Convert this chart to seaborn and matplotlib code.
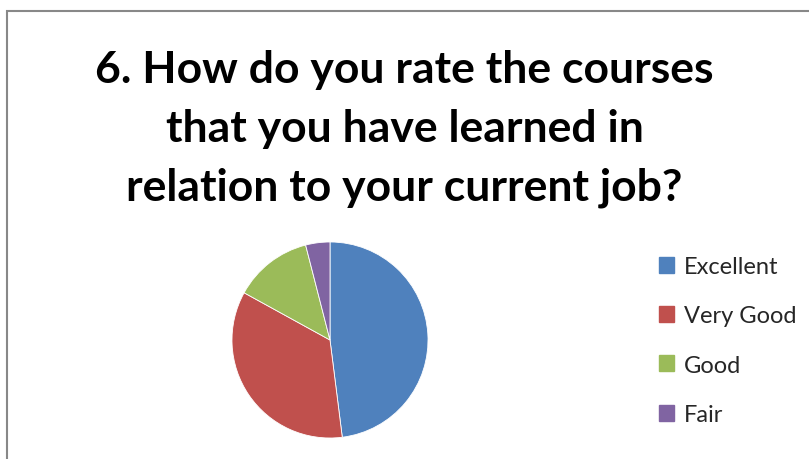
import matplotlib
matplotlib.use("Agg")
import matplotlib.pyplot as plt
import matplotlib.patches as mpatches
import seaborn as sns

sns.set_theme(style="white")
plt.rcParams['font.family'] = ['Lato', 'DejaVu Sans']

# Data
categories = ["Excellent", "Very Good", "Good", "Fair"]
values = [48, 35, 13, 4]
colors = ["#4F81BD", "#C0504D", "#9BBB59", "#8064A2"]
title = "6. How do you rate the courses\nthat you have learned in\nrelation to your current job?"

fig = plt.figure(figsize=(8.09, 4.60), dpi=100)

# Chart frame
frame = mpatches.Rectangle((7 / 809, -0.05), 1.2, 1 - 12 / 460 + 0.05,
                           transform=fig.transFigure, fill=False,
                           edgecolor="#888888", linewidth=1.5)
fig.patches.append(frame)

fig.text(0.5, 1 - 129 / 460, title, ha="center", va="center",
         fontsize=32, fontweight="bold", color="black", linespacing=1.58)

ax = fig.add_axes([(330 - 99) / 809, 1 - (341 + 99) / 460, 198 / 809, 198 / 460])
wedges, _ = ax.pie(values, colors=colors, startangle=90, counterclock=False,
                   wedgeprops=dict(linewidth=0.6, edgecolor="white"))
ax.set_xlim(-1.01, 1.01)
ax.set_ylim(-1.01, 1.01)
ax.set_aspect("equal")

handles = [mpatches.Patch(color=c, label=l) for c, l in zip(colors, categories)]
fig.legend(handles=handles, loc="upper left", bbox_to_anchor=(659 / 809, 1 - 257 / 460),
           frameon=False, fontsize=17, handlelength=0.65, handleheight=0.65,
           handletextpad=0.4, labelspacing=1.2, borderpad=0, borderaxespad=0)

fig.savefig("out.png", dpi=100)
